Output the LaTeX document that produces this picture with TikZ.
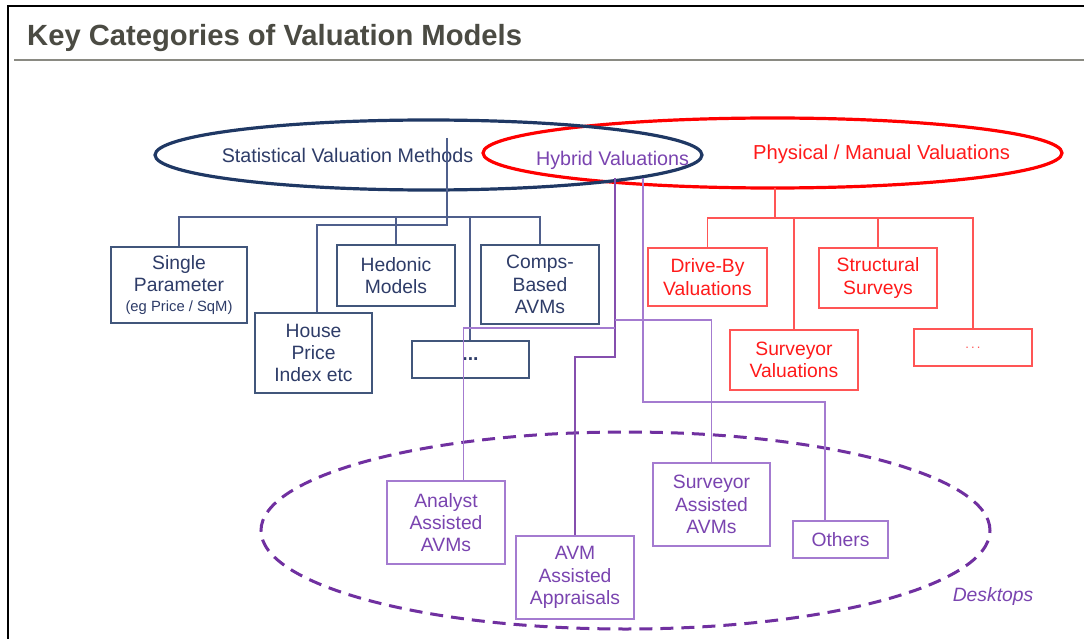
\documentclass[tikz,border=0pt]{standalone}
\usepackage{fontspec}
\setmainfont{Liberation Sans}
\usetikzlibrary{shapes.geometric}
\definecolor{navy}{HTML}{1F3864}
\definecolor{navytxt}{HTML}{2E3C68}
\definecolor{navyln}{HTML}{4F5F8C}
\definecolor{redc}{HTML}{FF1A1A}
\definecolor{redell}{HTML}{FF0000}
\definecolor{redln}{HTML}{FF5555}
\definecolor{purp}{HTML}{7030A0}
\definecolor{purptxt}{HTML}{7A44B0}
\definecolor{purpln}{HTML}{A47BD0}
\definecolor{titlec}{HTML}{4B4B43}
\definecolor{rulec}{HTML}{8A8A82}
\begin{document}
\begin{tikzpicture}[x=1pt,y=-1pt,
  box/.style={draw, inner sep=0pt, align=center, line width=1.3pt,
    font=\fontsize{19.3}{22.3}\selectfont},
  nbox/.style={box, draw=navy!85, text=navytxt},
  rbox/.style={box, draw=redln, text=redc},
  pbox/.style={box, draw=purpln, text=purptxt},
  nline/.style={draw=navyln, line width=1.2pt},
  rline/.style={draw=redln, line width=1.3pt},
  pline/.style={draw=purpln, line width=1.4pt},
  bigell/.style={ellipse, inner sep=0pt, line width=3.2pt},
  elllbl/.style={inner sep=0pt, font=\fontsize{19.7}{22}\selectfont}
]
\useasboundingbox (0,0) rectangle (1084,639);
\fill[white] (0,0) rectangle (1084,639);

% frame and title
\draw[black, line width=2.6pt] (8,639) -- (8,6) -- (1084,6);
\node[anchor=base west, inner sep=0pt, text=titlec,
  font=\fontsize{29.2}{31}\selectfont\bfseries] (title) at (27,46) {Key Categories of Valuation Models};
\draw[rulec, line width=1.6pt] (14,60) -- (1084,60);

% big ellipses
\node[bigell, draw=redell, minimum width=579pt, minimum height=70pt] (phys) at (772.5,153) {};
\node[bigell, draw=navy, minimum width=547pt, minimum height=70pt] (stat) at (428.5,155) {};
\node[elllbl, text=navytxt] (statlbl) at (347.5,155) {Statistical Valuation Methods};
\node[elllbl, text=purptxt] (hyblbl) at (612.5,160) {Hybrid Valuations};
\node[elllbl, text=redc, font=\fontsize{20.2}{22}\selectfont] (physlbl) at (881.5,154) {Physical / Manual Valuations};

% desktops ellipse
\node[ellipse, inner sep=0pt, draw=purp, line width=3pt, dash pattern=on 13pt off 8pt,
  minimum width=729pt, minimum height=197pt] (desk) at (625.5,530.5) {};
\node[inner sep=0pt, text=purptxt, font=\fontsize{19.3}{22}\selectfont\itshape] (desklbl) at (993,597) {Desktops};

% navy boxes
\node[nbox, minimum width=136pt, minimum height=76pt] (sp) at (179,285)
  {Single\\Parameter\\[-2pt]{\fontsize{14.8}{17}\selectfont (eg Price / SqM)}};
\node[nbox, minimum width=117pt, minimum height=80pt] (hpi) at (313.5,353) {House\\Price\\Index etc};
\node[nbox, minimum width=118pt, minimum height=61pt] (hed) at (396,275.5) {Hedonic\\Models};
\node[nbox, minimum width=118pt, minimum height=79pt] (comps) at (540,284.5) {Comps-\\Based\\AVMs};
\node[nbox, minimum width=117pt, minimum height=37pt] (ndots) at (470.5,359.5) {\textbf{...}};

% red boxes
\node[rbox, minimum width=119pt, minimum height=58pt] (drive) at (707.5,277) {Drive-By\\Valuations};
\node[rbox, minimum width=118pt, minimum height=60pt] (struct) at (878,278) {Structural\\Surveys};
\node[rbox, minimum width=128pt, minimum height=60pt] (surv) at (794,360) {Surveyor\\Valuations};
\node[rbox, minimum width=118pt, minimum height=37pt, text=redln,
  font=\fontsize{13}{15}\selectfont] (rdots) at (973,347.5) {\,.\,.\,.\,};

% purple boxes
\node[pbox, minimum width=118pt, minimum height=83pt] (analyst) at (446,522.5) {Analyst\\Assisted\\AVMs};
\node[pbox, minimum width=118pt, minimum height=83pt] (avmapp) at (575,577.5) {AVM\\Assisted\\Appraisals};
\node[pbox, minimum width=117pt, minimum height=83pt] (survavm) at (711.5,504.5) {Surveyor\\Assisted\\AVMs};
\node[pbox, minimum width=95pt, minimum height=37pt] (others) at (840.5,539.5) {Others};

% navy connectors
\coordinate (statin) at (447,138);
\coordinate (statfoot) at (447,190);
\coordinate (sj) at (447,217);
\coordinate (hj) at (447,225);
\draw[navy, line width=2pt] (statfoot) -- (sj);
\draw[nline] (sp.north) |- (comps.north |- sj) -- (comps.north);
\draw[nline] (hed.north) -- (hed.north |- sj);
\draw[nline] ([xshift=-0.5pt]ndots.north) -- ([xshift=-0.5pt]ndots.north |- sj);
\draw[nline] (statin) -- (hj) -| ([xshift=3.5pt]hpi.north);

% red connectors
\coordinate (pfoot) at (775,188);
\coordinate (rj) at (775,218);
\draw[redln, line width=2pt] (pfoot) -- (rj);
\draw[rline] (drive.north) |- (rdots.north |- rj) -- (rdots.north);
\draw[rline] (struct.north) -- (struct.north |- rj);
\draw[rline] (surv.north) -- (surv.north |- rj);

% purple connectors
\coordinate (hyb1) at (615,178);
\coordinate (hyb2) at (643,178);
\coordinate (hC) at (615,320);
\coordinate (hB) at (615,328);
\coordinate (hA) at (615,357);
\coordinate (hD) at (643,402);
\draw[draw=purp!85, line width=1.4pt] (hyb1) -- (hA) -| (avmapp.north);
\draw[pline] (hB) -| ([xshift=17.5pt]analyst.north);
\draw[pline] (hC) -| (survavm.north);
\draw[pline] (hyb2) -- (hD) -| ([xshift=-15.5pt]others.north);
\end{tikzpicture}
\end{document}
